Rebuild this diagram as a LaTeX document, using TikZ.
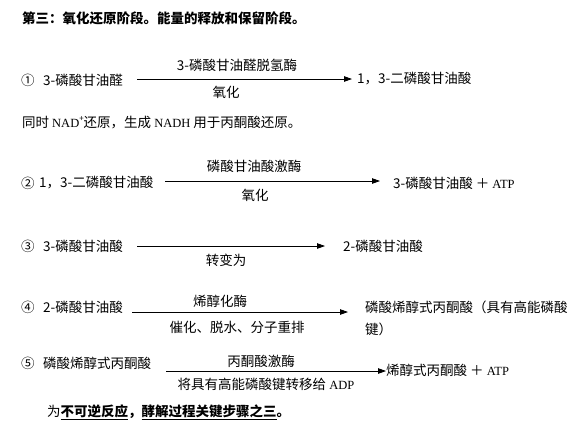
\documentclass[tikz,border=0pt]{standalone}
\usepackage{fontspec}
\setmainfont{Noto Sans CJK SC}
\newfontfamily\latf{Liberation Serif}
\newcommand{\lat}[1]{{\latf\fontsize{12.5}{14}\selectfont #1}}
\usetikzlibrary{arrows.meta}
\tikzset{
  txt/.style={anchor=west, inner sep=0pt, font=\fontsize{13.5}{14}\selectfont},
  lbl/.style={inner sep=0pt, font=\fontsize{13.5}{14}\selectfont},
  rx/.style={line width=0.8pt, -{Triangle[length=8pt,width=5.5pt]}},
}
\begin{document}
\begin{tikzpicture}[x=1pt,y=-1pt]
\useasboundingbox[fill=white] (0,0) rectangle (583,429);
% title
\node[txt] (title) at (22,18) {\bfseries 第三：氧化还原阶段。能量的释放和保留阶段。};
% row 1
\node[txt] (n1) at (21,80) {①};
\node[txt] (r1) at (43,80) {3-磷酸甘油醛};
\coordinate (s1) at (137,79);
\coordinate (e1) at (352,79);
\draw[rx] (s1) -- (e1);
\node[lbl] (t1) at (237,65) {3-磷酸甘油醛脱氢酶};
\node[lbl] (b1) at (226,92) {氧化};
\node[txt] (p1) at (357,79) {1，3-二磷酸甘油酸};
\node[txt] (note) at (22,123) {同时 \lat{NAD}\raisebox{0.45em}{\fontsize{8}{8}\selectfont +}还原，生成 \lat{NADH} 用于丙酮酸还原。};
% row 2
\node[txt] (n2) at (21,183) {②};
\node[txt] (r2) at (39,183) {1，3-二磷酸甘油酸};
\coordinate (s2) at (165,181);
\coordinate (e2) at (380,181);
\draw[rx] (s2) -- (e2);
\node[lbl] (t2) at (254,166) {磷酸甘油酸激酶};
\node[lbl] (b2) at (255,195) {氧化};
\node[txt] (p2) at (393,183) {3-磷酸甘油酸 ＋ \lat{ATP}};
% row 3
\node[txt] (n3) at (21,246) {③};
\node[txt] (r3) at (43,246) {3-磷酸甘油酸};
\coordinate (s3) at (137,246);
\coordinate (e3) at (325,246);
\draw[rx] (s3) -- (e3);
\node[lbl] (b3) at (226,260) {转变为};
\node[txt] (p3) at (343,246) {2-磷酸甘油酸};
% row 4
\node[txt] (n4) at (21,307) {④};
\node[txt] (r4) at (43,307) {2-磷酸甘油酸};
\coordinate (s4) at (132,312);
\coordinate (e4) at (348,312);
\draw[rx] (s4) -- (e4);
\node[lbl] (t4) at (220,301) {烯醇化酶};
\node[lbl] (b4) at (237,327) {催化、脱水、分子重排};
\node[txt] (p4) at (365,307) {磷酸烯醇式丙酮酸（具有高能磷酸};
\node[txt] (p4b) at (365,329) {键）};
% row 5
\node[txt] (n5) at (21,363) {⑤};
\node[txt] (r5) at (43,363) {磷酸烯醇式丙酮酸};
\coordinate (s5) at (166,371);
\coordinate (e5) at (386,371);
\draw[rx] (s5) -- (e5);
\node[lbl] (t5) at (261,361) {丙酮酸激酶};
\node[lbl] (b5) at (266,384) {将具有高能磷酸键转移给 \lat{ADP}};
\node[txt] (p5) at (386,370) {烯醇式丙酮酸 ＋ \lat{ATP}};
% final
\node[txt] (fin) at (47,412) {为\textbf{\underline{不可逆反应}，\underline{酵解过程关键步骤之三}。}};
\end{tikzpicture}
\end{document}
